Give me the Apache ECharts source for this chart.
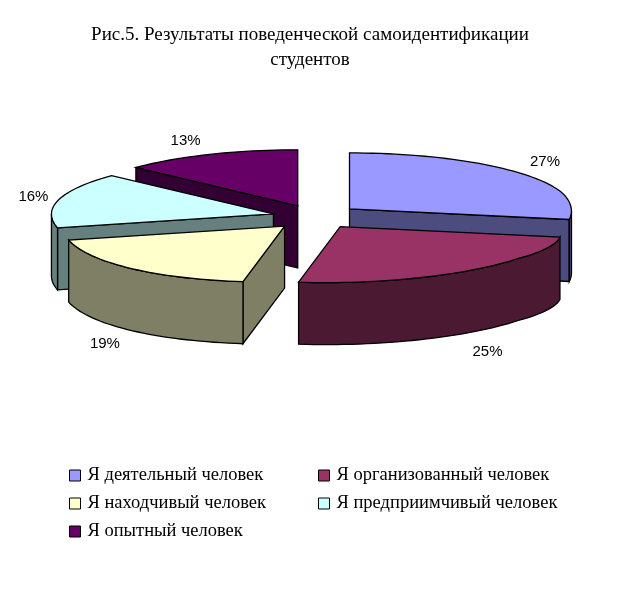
<!DOCTYPE html>
<html>
<head>
<meta charset="utf-8">
<style>html,body{margin:0;padding:0;background:#fff}#c{width:623px;height:589px}</style>
<script src="https://cdn.jsdelivr.net/npm/echarts@6/dist/echarts.min.js"></script>
</head>
<body>
<div id="c"></div>
<script>
const titleText = 'Рис.5. Результаты поведенческой самоидентификации\nстудентов';
const categories = ['Я деятельный человек', 'Я организованный человек', 'Я находчивый человек', 'Я предприимчивый человек', 'Я опытный человек'];
const values = [27, 25, 19, 16, 13];
const topColors = ['#9999FF', '#993366', '#FFFFCC', '#CCFFFF', '#660066'];
const sideColors = ['#4C4C7F', '#4C1933', '#7F7F66', '#667F7F', '#330033'];

// layout of the tilted, exploded pie
const CX = 315, CY = 217, RX = 222, RY = 56, DEPTH = 62, EX = 46, EY = 12.2, SKEW = 14;
const drawLayer = [2, 5, 4, 3, 1];
const apexNudge = [0, -3, 0, 3, 1];
const labelNudge = [[29, -10], [20, 19], [-25, 14], [-25, -3], [-24, -14]];

const total = values.reduce((a, b) => a + b, 0);
const rad = d => d * Math.PI / 180;
function rim(deg) {
  const s = Math.sin(rad(deg)), c = Math.cos(rad(deg));
  const bump = 4 * Math.max(0, 1 - Math.abs(deg - 100) / 25);
  const dy = -RY * c + bump;
  const k = dy > 0 ? dy / RY : 0;
  return [RX * s - SKEW * k * k, dy];
}
function arcPoints(a, b, ax, ay, drop) {
  const pts = [], n = Math.max(1, Math.ceil((b - a) / 2));
  for (let i = 0; i <= n; i++) {
    const p = rim(a + (b - a) * i / n);
    pts.push([ax + p[0], ay + p[1] + drop]);
  }
  return pts;
}
function poly(points, fill) {
  return { type: 'polygon', shape: { points }, style: { fill, stroke: '#000', lineWidth: 1.3 } };
}
let acc = 0;
const spans = values.map(v => { const a = acc; acc += v; return [a / total * 360, acc / total * 360]; });

function renderSlice(i) {
  return function (params, api) {
    const [a, b] = spans[i];
    const mid = (a + b) / 2;
    const ax = CX + EX * Math.sin(rad(mid)) + apexNudge[i];
    const ay = CY - EY * Math.cos(rad(mid));
    const children = [];
    const cut = deg => {
      const p = rim(deg), e = [ax + p[0], ay + p[1]];
      children.push(poly([[ax, ay], e, [e[0], e[1] + DEPTH], [ax, ay + DEPTH]], sideColors[i]));
    };
    if (Math.sin(rad(a)) < -1e-6) cut(a);
    if (Math.sin(rad(b)) > 1e-6) cut(b);
    const fa = Math.max(a, 90), fb = Math.min(b, 270);
    if (fb > fa) {
      const upper = arcPoints(fa, fb, ax, ay, 0);
      const lower = arcPoints(fa, fb, ax, ay, DEPTH).reverse();
      children.push(poly(upper.concat(lower), sideColors[i]));
    }
    children.push(poly([[ax, ay]].concat(arcPoints(a, b, ax, ay, 0)), topColors[i]));
    const m = rim(mid);
    const front = Math.cos(rad(mid)) < 0 ? DEPTH : 0;
    children.push({
      type: 'text',
      style: {
        x: ax + m[0] + labelNudge[i][0],
        y: ay + m[1] + front + labelNudge[i][1],
        text: api.value(0) + '%',
        fill: '#000',
        font: '15px "Liberation Sans"',
        align: 'center',
        verticalAlign: 'middle'
      }
    });
    return { type: 'group', children };
  };
}

const legendBase = {
  orient: 'vertical', icon: 'rect', itemWidth: 11, itemHeight: 11, itemGap: 11,
  selectedMode: false,
  itemStyle: { borderColor: '#000', borderWidth: 1 },
  textStyle: { fontFamily: 'Liberation Serif', fontSize: 18.5, color: '#000', padding: [0, 0, 0, 2] },
  padding: 0
};
const chart = echarts.init(document.getElementById('c'), null, { renderer: 'canvas' });
chart.setOption({
  animation: false,
  backgroundColor: '#fff',
  title: {
    text: titleText, left: 305, top: 18, textAlign: 'center',
    textStyle: { fontFamily: 'Liberation Serif', fontSize: 19, fontWeight: 'normal', color: '#000', lineHeight: 25 }
  },
  legend: [
    Object.assign({}, legendBase, { left: 69, top: 466, data: [categories[0]] }),
    Object.assign({}, legendBase, { left: 318, top: 466, data: [categories[1]] }),
    Object.assign({}, legendBase, { left: 69, top: 494, data: [categories[2]] }),
    Object.assign({}, legendBase, { left: 318, top: 494, data: [categories[3]] }),
    Object.assign({}, legendBase, { left: 69, top: 522, data: [categories[4]] })
  ],
  series: categories.map((name, i) => ({
    type: 'custom',
    name,
    coordinateSystem: 'none',
    z: drawLayer[i],
    silent: true,
    itemStyle: { color: topColors[i] },
    renderItem: renderSlice(i),
    data: [[values[i]]]
  }))
});
</script>
</body>
</html>
